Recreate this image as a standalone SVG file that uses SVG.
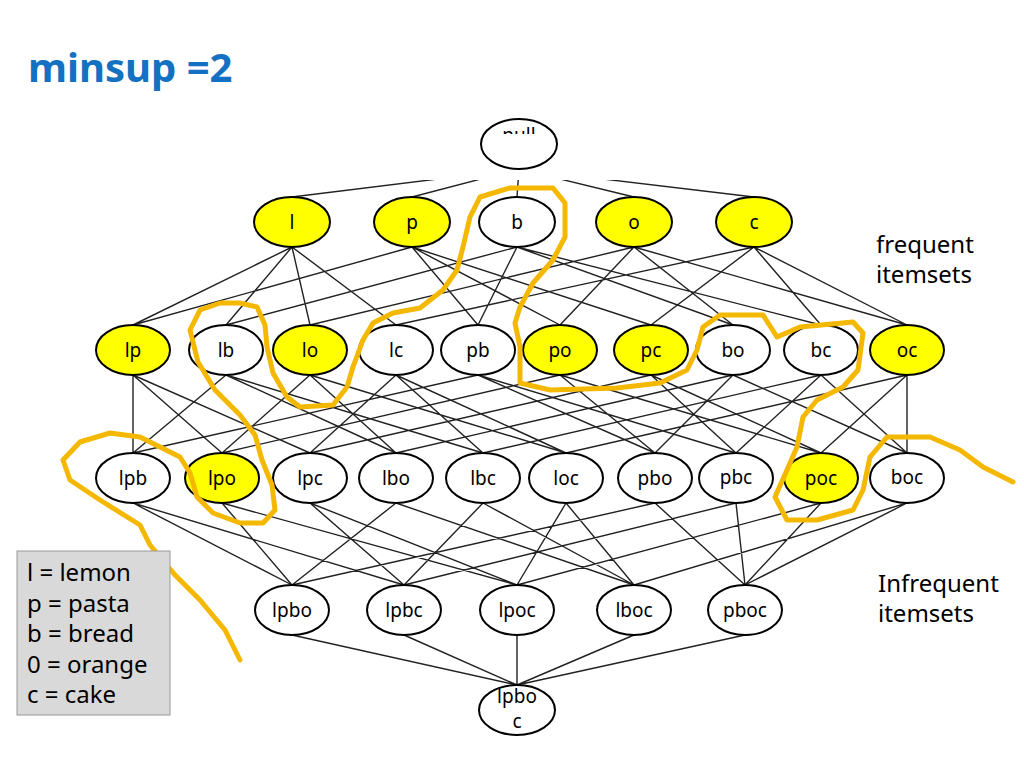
<svg xmlns="http://www.w3.org/2000/svg" width="1024" height="768" viewBox="0 0 1024 768">
<style>
.n{stroke:#000;stroke-width:2}
.w{fill:#fff}
.y{fill:#ffff00}
text{font-family:"Noto Sans","Open Sans","DejaVu Sans",sans-serif}
.t{font-size:19px;text-anchor:middle;fill:#000}
.e{stroke:#222;stroke-width:1.4;fill:none}
</style>
<defs><clipPath id="cl"><rect x="0" y="180" width="1024" height="100"/></clipPath><clipPath id="nl"><rect x="480" y="110" width="80" height="24"/></clipPath></defs>
<rect width="1024" height="768" fill="#fff"/>
<text x="28" y="82" font-size="40" font-weight="bold" fill="#1470c0">minsup =2</text>
<g id="connectors">
<path class="e" clip-path="url(#cl)" d="M519 169L292 197M519 169L412 197M519 169L517 197M519 169L634 197M519 169L754 197"/>
<path class="e" d="M292 247L133 325M292 247L226 325M292 247L310 325M292 247L396 325
M412 247L133 325M412 247L478 325M412 247L560 325M412 247L651 325
M517 247L226 325M517 247L478 325M517 247L733 325M517 247L821 325
M634 247L310 325M634 247L560 325M634 247L733 325M634 247L907 325
M754 247L396 325M754 247L651 325M754 247L821 325M754 247L907 325
M133 375L133 453M133 375L222 453M133 375L310 453
M226 375L133 453M226 375L396 453M226 375L483 453
M310 375L222 453M310 375L396 453M310 375L566 453
M396 375L310 453M396 375L483 453M396 375L566 453
M478 375L133 453M478 375L655 453M478 375L736 453
M560 375L222 453M560 375L655 453M560 375L821 453
M651 375L310 453M651 375L736 453M651 375L821 453
M733 375L396 453M733 375L655 453M733 375L907 453
M821 375L483 453M821 375L736 453M821 375L907 453
M907 375L566 453M907 375L821 453M907 375L907 453
M133 503L292 585M133 503L404 585
M222 503L292 585M222 503L517 585
M310 503L404 585M310 503L517 585
M396 503L292 585M396 503L634 585
M483 503L404 585M483 503L634 585
M566 503L517 585M566 503L634 585
M655 503L292 585M655 503L745 585
M736 503L404 585M736 503L745 585
M821 503L517 585M821 503L745 585
M907 503L634 585M907 503L745 585
M292 635L517 685M404 635L517 685M517 635L517 685M634 635L517 685M745 635L517 685"/>
</g>
<g id="null"><ellipse class="n w" cx="519" cy="144" rx="38" ry="25"/><text class="t" x="519" y="142" font-size="14" clip-path="url(#nl)">null</text></g>
<g id="l"><ellipse class="n y" cx="292" cy="222" rx="38" ry="25"/><text class="t" x="292" y="229">l</text></g>
<g id="p"><ellipse class="n y" cx="412" cy="222" rx="38" ry="25"/><text class="t" x="412" y="229">p</text></g>
<g id="b"><ellipse class="n w" cx="517" cy="222" rx="38" ry="25"/><text class="t" x="517" y="229">b</text></g>
<g id="o"><ellipse class="n y" cx="634" cy="222" rx="38" ry="25"/><text class="t" x="634" y="229">o</text></g>
<g id="c"><ellipse class="n y" cx="754" cy="222" rx="38" ry="25"/><text class="t" x="754" y="229">c</text></g>
<g id="lp"><ellipse class="n y" cx="133" cy="350" rx="37" ry="25"/><text class="t" x="133" y="357">lp</text></g>
<g id="lb"><ellipse class="n w" cx="226" cy="350" rx="37" ry="25"/><text class="t" x="226" y="357">lb</text></g>
<g id="lo"><ellipse class="n y" cx="310" cy="350" rx="37" ry="25"/><text class="t" x="310" y="357">lo</text></g>
<g id="lc"><ellipse class="n w" cx="396" cy="350" rx="37" ry="25"/><text class="t" x="396" y="357">lc</text></g>
<g id="pb"><ellipse class="n w" cx="478" cy="350" rx="37" ry="25"/><text class="t" x="478" y="357">pb</text></g>
<g id="po"><ellipse class="n y" cx="560" cy="350" rx="37" ry="25"/><text class="t" x="560" y="357">po</text></g>
<g id="pc"><ellipse class="n y" cx="651" cy="350" rx="37" ry="25"/><text class="t" x="651" y="357">pc</text></g>
<g id="bo"><ellipse class="n w" cx="733" cy="350" rx="37" ry="25"/><text class="t" x="733" y="357">bo</text></g>
<g id="bc"><ellipse class="n w" cx="821" cy="350" rx="37" ry="25"/><text class="t" x="821" y="357">bc</text></g>
<g id="oc"><ellipse class="n y" cx="907" cy="350" rx="37" ry="25"/><text class="t" x="907" y="357">oc</text></g>
<g id="lpb"><ellipse class="n w" cx="133" cy="478" rx="37" ry="25"/><text class="t" x="133" y="485">lpb</text></g>
<g id="lpo"><ellipse class="n y" cx="222" cy="478" rx="37" ry="25"/><text class="t" x="222" y="485">lpo</text></g>
<g id="lpc"><ellipse class="n w" cx="310" cy="478" rx="37" ry="25"/><text class="t" x="310" y="485">lpc</text></g>
<g id="lbo"><ellipse class="n w" cx="396" cy="478" rx="37" ry="25"/><text class="t" x="396" y="485">lbo</text></g>
<g id="lbc"><ellipse class="n w" cx="483" cy="478" rx="37" ry="25"/><text class="t" x="483" y="485">lbc</text></g>
<g id="loc"><ellipse class="n w" cx="566" cy="478" rx="37" ry="25"/><text class="t" x="566" y="485">loc</text></g>
<g id="pbo"><ellipse class="n w" cx="655" cy="478" rx="37" ry="25"/><text class="t" x="655" y="485">pbo</text></g>
<g id="pbc"><ellipse class="n w" cx="736" cy="478" rx="37" ry="25"/><text class="t" x="736" y="484">pbc</text></g>
<g id="poc"><ellipse class="n y" cx="821" cy="478" rx="37" ry="25"/><text class="t" x="821" y="485">poc</text></g>
<g id="boc"><ellipse class="n w" cx="907" cy="478" rx="37" ry="25"/><text class="t" x="907" y="484">boc</text></g>
<g id="lpbo"><ellipse class="n w" cx="292" cy="610" rx="37" ry="25"/><text class="t" x="292" y="617">lpbo</text></g>
<g id="lpbc"><ellipse class="n w" cx="404" cy="610" rx="37" ry="25"/><text class="t" x="404" y="617">lpbc</text></g>
<g id="lpoc"><ellipse class="n w" cx="517" cy="610" rx="37" ry="25"/><text class="t" x="517" y="617">lpoc</text></g>
<g id="lboc"><ellipse class="n w" cx="634" cy="610" rx="37" ry="25"/><text class="t" x="634" y="617">lboc</text></g>
<g id="pboc"><ellipse class="n w" cx="745" cy="610" rx="37" ry="25"/><text class="t" x="745" y="617">pboc</text></g>
<g id="lpboc"><ellipse class="n w" cx="517" cy="710" rx="38" ry="25"/><text class="t" x="517" y="703">lpbo</text><text class="t" x="517" y="728">c</text></g>
<polyline fill="none" stroke="#f5b800" stroke-width="5" stroke-linejoin="round" stroke-linecap="round" points="240,660 225,630 200,600 175,575 150,545 140,525 100,500 70,480 63,460 80,442 110,433 140,437 160,447 180,457 190,473 197,497 213,513 240,523 263,523 275,510 272,485 262,460 255,435 240,415 215,390 198,362 190,330 200,310 220,303 240,303 257,307 265,325 267,347 273,373 287,397 300,407 333,405 347,387 353,367 363,340 373,323 393,313 420,308 443,290 457,270 463,247 470,217 480,197 510,188 553,188 565,203 565,237 553,260 533,283 520,307 515,323 520,347 520,383 550,390 617,388 660,383 687,370 697,350 703,327 720,315 763,315 777,337 800,327 853,322 863,333 858,370 843,387 817,400 803,417 797,447 787,470 775,497 787,520 817,520 853,510 863,490 870,457 887,437 930,437 960,450 983,467 1013,482"/>
<g id="legend"><rect x="17" y="551" width="153" height="164" fill="#d9d9d9" stroke="#999" stroke-width="1"/>
<g font-size="24" fill="#000"><text x="27" y="581">l = lemon</text><text x="27" y="612">p = pasta</text><text x="27" y="642">b = bread</text><text x="27" y="673">0 = orange</text><text x="27" y="703">c = cake</text></g></g>
<g font-size="24" fill="#000"><text x="876" y="253">frequent</text><text x="876" y="283">itemsets</text><text x="878" y="592">Infrequent</text><text x="878" y="622">itemsets</text></g>
</svg>
